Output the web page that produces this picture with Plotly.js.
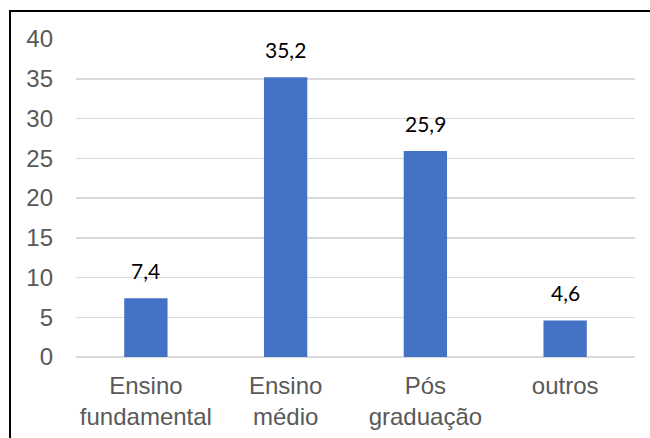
<!DOCTYPE html>
<html>
<head>
<meta charset="utf-8">
<script src="https://cdn.plot.ly/plotly-3.0.1.min.js"></script>
<style>
  html, body { margin: 0; padding: 0; background: #fff; }
  #wrap { position: relative; width: 650px; height: 438px; overflow: hidden; }
  #chart { width: 650px; height: 438px; }
  #frame { position: absolute; left: 9px; top: 10px; width: 700px; height: 500px;
           border-left: 2px solid #000; border-top: 2px solid #000; pointer-events: none; }
</style>
</head>
<body>
<div id="wrap">
  <div id="chart"></div>
  <div id="frame"></div>
</div>
<script>
const categories = ["Ensino<br>fundamental", "Ensino<br>médio", "Pós<br>graduação", "outros"];
const values = [7.4, 35.2, 25.9, 4.6];
const valueLabels = ["7,4", "35,2", "25,9", "4,6"];
const yTicks = [0, 5, 10, 15, 20, 25, 30, 35, 40];

const trace = {
  type: "bar",
  x: categories,
  y: values,
  marker: { color: "#4472C4" },
  hoverinfo: "none"
};

const annotations = categories.map((c, i) => ({
  x: c, y: values[i], xref: "x", yref: "y",
  text: valueLabels[i], showarrow: false,
  yanchor: "bottom", yshift: 13,
  font: { family: "Lato, 'Open Sans', sans-serif", size: 21, color: "#000" }
}));

const layout = {
  width: 650, height: 438,
  margin: { l: 76, r: 15, t: 39, b: 81 },
  paper_bgcolor: "#fff", plot_bgcolor: "#fff",
  bargap: 0.69,
  showlegend: false,
  font: { family: "'Liberation Sans', Arial, sans-serif", size: 24, color: "#595959" },
  xaxis: {
    type: "category",
    showgrid: false, zeroline: false, showline: false,
    ticks: "", ticklabelstandoff: 12,
    tickfont: { family: "'Liberation Sans', Arial, sans-serif", size: 24, color: "#595959" }
  },
  yaxis: {
    range: [0, 40],
    tickvals: yTicks,
    ticktext: yTicks.map(String),
    showgrid: true, gridcolor: "#d9d9d9", gridwidth: 1.5,
    zeroline: true, zerolinecolor: "#d9d9d9", zerolinewidth: 1.5,
    showline: false, ticks: "", ticklabelstandoff: 22,
    tickfont: { family: "'Liberation Sans', Arial, sans-serif", size: 24, color: "#595959" }
  },
  annotations: annotations
};

Plotly.newPlot("chart", [trace], layout, { displayModeBar: false, staticPlot: true });
</script>
</body>
</html>
